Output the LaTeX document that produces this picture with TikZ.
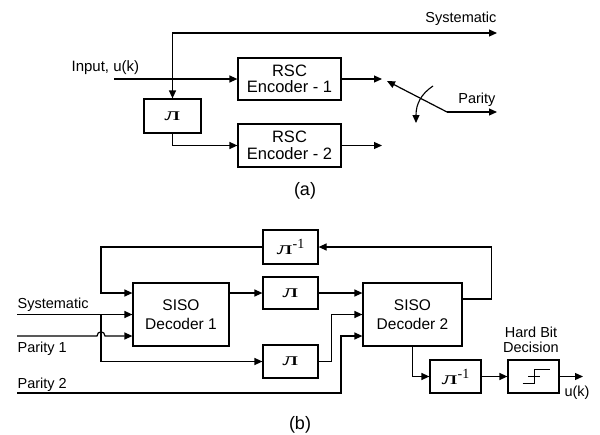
\documentclass[tikz,border=0pt]{standalone}
\usepackage{fontspec}
\setmainfont{Liberation Sans}
\newfontfamily\serifpi{Liberation Serif}
\usetikzlibrary{arrows.meta,calc}
\newcommand{\pig}{\scalebox{1.7}[1]{\serifpi\fontsize{19}{19}\selectfont л}}
\newcommand{\pigi}{\pig\raisebox{6pt}{\serifpi\fontsize{14}{14}\selectfont -1}}
\begin{document}
\begin{tikzpicture}[x=1pt,y=-1pt,line width=1.2pt,
  box/.style={draw,line width=1.2pt,inner sep=0pt,align=center},
  boxtxt/.style={font=\fontsize{15.5}{19}\selectfont},
  rsctxt/.style={font=\fontsize{16.5}{16.6}\selectfont},
  arr/.style={-{Triangle[length=8pt,width=7pt]}},
  darr/.style={{Triangle[length=8pt,width=7pt]}-{Triangle[length=8pt,width=7pt]}},
  lab/.style={font=\fontsize{14.5}{15}\selectfont,inner sep=0pt},
  captxt/.style={font=\fontsize{18}{18}\selectfont,inner sep=0pt}]
\useasboundingbox (0,0) rectangle (600,434);

% ---------------- (a) ----------------
\node[box,rsctxt,minimum width=103pt,minimum height=42pt] (rsc1) at (289.5,79) {RSC\\Encoder - 1};
\node[box,rsctxt,minimum width=103pt,minimum height=43pt] (rsc2) at (289.5,145.5) {RSC\\Encoder - 2};
\node[box,minimum width=57pt,minimum height=34pt] (pia) at (172.5,116) {\pig};

\coordinate (inA) at (114,79);
\coordinate (sysA) at (172.5,33);
\coordinate (sysEnd) at (497,33);
\coordinate (o1) at (382,79);
\coordinate (o2) at (382,145.5);
\coordinate (swP) at (447,112);
\coordinate (swT) at (387,81);
\coordinate (parEnd) at (497,112);
\coordinate (cS) at (433,86);
\coordinate (cE) at (416,123);

\draw[darr] (pia.north) -- (sysA) -- (sysEnd);
\draw[arr] (inA) -- (rsc1.west);
\draw[arr] (pia.south) |- (rsc2.west);
\draw[arr] (rsc1.east) -- (o1);
\draw[arr] (rsc2.east) -- (o2);
\draw[arr] (swP) -- (swT);
\draw[arr] (swP) -- (parEnd);
\draw[arr,line width=1.1pt] (cS) .. controls (421,94) and (416,104) .. (cE);

\node[lab,anchor=base east] (tsys) at (497,22) {Systematic};
\node[lab,anchor=base east] (tpar) at (496,103) {Parity};
\node[lab,font=\fontsize{15}{15}\selectfont,anchor=base west] (tin) at (71,71) {Input, u(k)};
\node[captxt,anchor=base] (ca) at (305,195) {(a)};

% ---------------- (b) ----------------
\node[box,minimum width=55pt,minimum height=34pt] (pinvT) at (290.5,247) {\pigi};
\node[box,minimum width=55pt,minimum height=32pt] (piM) at (290.5,293) {\pig};
\node[box,minimum width=55pt,minimum height=33pt] (piB) at (290.5,361.5) {\pig};
\node[box,boxtxt,minimum width=96pt,minimum height=63pt] (siso1) at (181,314.5) {SISO\\Decoder 1};
\node[box,boxtxt,minimum width=99pt,minimum height=63pt] (siso2) at (412.5,314.5) {SISO\\Decoder 2};
\node[box,minimum width=51pt,minimum height=33pt] (pinvB) at (455.5,376.5) {\pigi};
\node[box,minimum width=51pt,minimum height=33pt] (hbd) at (533.5,376.5) {};

\coordinate (sysB) at (17,314.5);
\coordinate (p1) at (17,336);
\coordinate (p2) at (17,393);
\coordinate (uk) at (583,376.5);

\draw[arr] ([yshift=15.5pt]siso2.east) -- ++(29,0) |- (pinvT.east);
\draw[arr] (pinvT.west) -| (101,293) -- (siso1.west |- 0,293);
\draw[arr] (siso1.east |- piM.west) -- (piM.west);
\draw[arr] (piM.east) -- (siso2.west |- piM.east);
\draw[arr] (sysB) -- (siso1.west);
\draw[arr] (101,314.5) |- (piB.west);
\draw[arr] (p1) -- (97,336) .. controls (97,330.5) and (105,330.5) .. (105,336) -- (siso1.west |- p1);
\draw[arr] (piB.east) -- ++(13,0) |- (siso2.west);
\draw[arr] (p2) -- (341,393) |- (siso2.west |- p1);
\draw[arr] (siso2.south) |- (pinvB.west);
\draw[arr] (pinvB.east) -- (hbd.west);
\draw[arr] (hbd.east) -- (uk);

% step symbol
\draw[line width=1pt] (522.5,383) -- (534.5,383) -- (534.5,369) -- (550,369);
\draw[line width=1pt] (528,376) -- (540,376);

\node[lab,anchor=base west] (tsysb) at (17,308.5) {Systematic};
\node[lab,anchor=base west] (tp1) at (17,352) {Parity 1};
\node[lab,anchor=base west] (tp2) at (17,388) {Parity 2};
\node[lab,anchor=base] (thb) at (531,337) {Hard Bit};
\node[lab,anchor=base] (thd) at (531,352) {Decision};
\node[lab,anchor=base west] (tuk) at (564,396) {u(k)};
\node[captxt,anchor=base] (cb) at (300,429) {(b)};
\end{tikzpicture}
\end{document}
